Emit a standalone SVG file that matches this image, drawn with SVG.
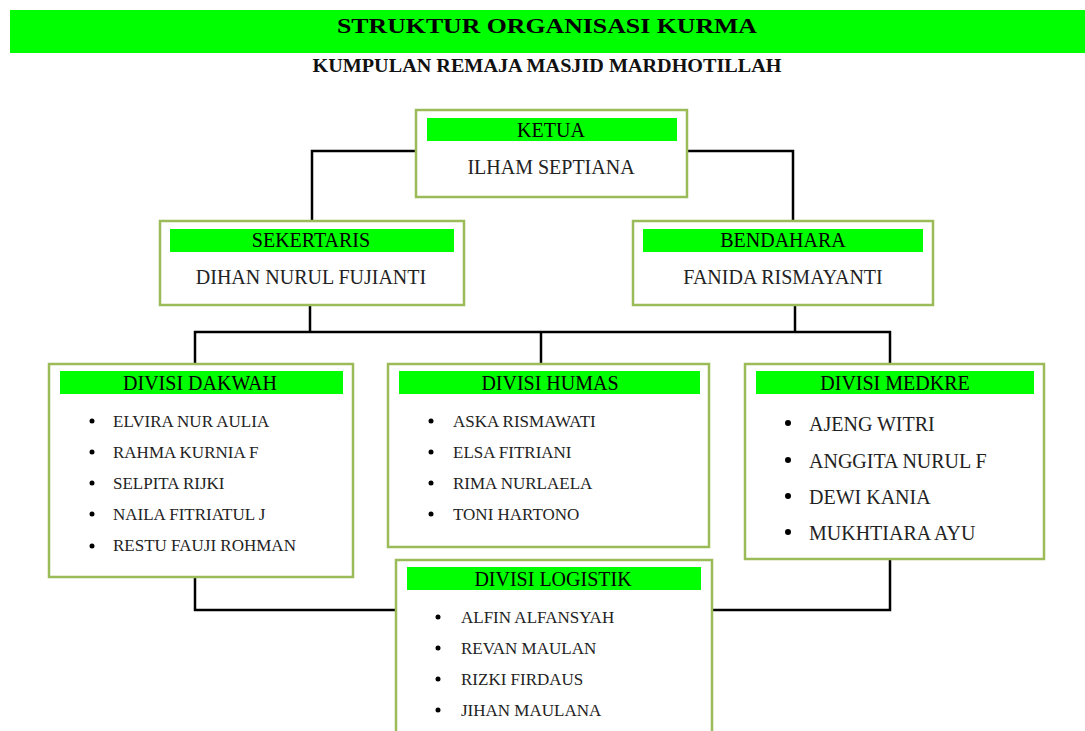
<svg xmlns="http://www.w3.org/2000/svg" width="1085" height="731" viewBox="0 0 1085 731">
<style>
.box{fill:#fff;stroke:#9BBB59;stroke-width:2.5}
.bar{fill:#00FF00}
.hd{font-family:"Liberation Serif","Times New Roman",serif;font-size:20px;fill:#000;text-anchor:middle}
.nm{font-family:"Liberation Serif","Times New Roman",serif;font-size:20px;fill:#222;text-anchor:middle}
.it{font-family:"Liberation Serif","Times New Roman",serif;font-size:17px;fill:#222}
.itl{font-family:"Liberation Serif","Times New Roman",serif;font-size:20px;fill:#222}
.con{fill:none;stroke:#000;stroke-width:2.5}
.dot{fill:#000}
</style>
<rect width="1085" height="731" fill="#fff"/>
<g id="title">
<rect x="10" y="10" width="1075" height="43" fill="#00FF00"/>
<text x="547" y="33" font-family="Liberation Serif, serif" font-weight="bold" font-size="22" text-anchor="middle" textLength="420" lengthAdjust="spacingAndGlyphs">STRUKTUR ORGANISASI KURMA</text>
<text x="547" y="72" font-family="Liberation Serif, serif" font-weight="bold" font-size="19" text-anchor="middle" textLength="469" lengthAdjust="spacingAndGlyphs" fill="#111">KUMPULAN REMAJA MASJID MARDHOTILLAH</text>
</g>
<g id="connectors">
<polyline class="con" points="416,151 312,151 312,221"/>
<polyline class="con" points="687,151 793,151 793,221"/>
<line class="con" x1="310" y1="305" x2="310" y2="332"/>
<line class="con" x1="795" y1="305" x2="795" y2="332"/>
<line class="con" x1="194" y1="332" x2="891" y2="332"/>
<line class="con" x1="195" y1="331" x2="195" y2="364"/>
<line class="con" x1="541" y1="331" x2="541" y2="364"/>
<line class="con" x1="890" y1="331" x2="890" y2="364"/>
<polyline class="con" points="195,577 195,610 396,610"/>
<polyline class="con" points="890,559 890,610 712,610"/>
</g>
<g id="ketua">
<rect class="box" x="416" y="110" width="271" height="87"/>
<rect class="bar" x="427" y="118" width="250" height="23"/>
<text class="hd" x="551" y="137">KETUA</text>
<text class="nm" x="551" y="174">ILHAM SEPTIANA</text>
</g>
<g id="sekertaris">
<rect class="box" x="160" y="221" width="304" height="84"/>
<rect class="bar" x="170" y="229" width="284" height="23"/>
<text class="hd" x="311" y="247">SEKERTARIS</text>
<text class="nm" x="311" y="284">DIHAN NURUL FUJIANTI</text>
</g>
<g id="bendahara">
<rect class="box" x="633" y="221" width="300" height="84"/>
<rect class="bar" x="643" y="229" width="280" height="23"/>
<text class="hd" x="783" y="247">BENDAHARA</text>
<text class="nm" x="783" y="284">FANIDA RISMAYANTI</text>
</g>
<g id="divisi-dakwah">
<rect class="box" x="49" y="364" width="304" height="213"/>
<rect class="bar" x="60" y="371" width="283" height="23"/>
<text class="hd" x="200" y="390">DIVISI DAKWAH</text>
<circle class="dot" cx="92" cy="421" r="2.5"/><text class="it" x="113" y="426.5">ELVIRA NUR AULIA</text>
<circle class="dot" cx="92" cy="452" r="2.5"/><text class="it" x="113" y="457.5">RAHMA KURNIA F</text>
<circle class="dot" cx="92" cy="483" r="2.5"/><text class="it" x="113" y="488.5">SELPITA RIJKI</text>
<circle class="dot" cx="92" cy="514" r="2.5"/><text class="it" x="113" y="520">NAILA FITRIATUL J</text>
<circle class="dot" cx="92" cy="546" r="2.5"/><text class="it" x="113" y="551">RESTU FAUJI ROHMAN</text>
</g>
<g id="divisi-humas">
<rect class="box" x="388" y="364" width="321" height="183"/>
<rect class="bar" x="399" y="371" width="301" height="23"/>
<text class="hd" x="550" y="390">DIVISI HUMAS</text>
<circle class="dot" cx="431" cy="421" r="2.5"/><text class="it" x="453" y="426.5">ASKA RISMAWATI</text>
<circle class="dot" cx="431" cy="452" r="2.5"/><text class="it" x="453" y="457.5">ELSA FITRIANI</text>
<circle class="dot" cx="431" cy="483" r="2.5"/><text class="it" x="453" y="488.5">RIMA NURLAELA</text>
<circle class="dot" cx="431" cy="514" r="2.5"/><text class="it" x="453" y="520">TONI HARTONO</text>
</g>
<g id="divisi-medkre">
<rect class="box" x="745" y="364" width="299" height="195"/>
<rect class="bar" x="756" y="371" width="278" height="23"/>
<text class="hd" x="895" y="390">DIVISI MEDKRE</text>
<circle class="dot" cx="788" cy="423" r="3"/><text class="itl" x="809" y="431">AJENG WITRI</text>
<circle class="dot" cx="788" cy="460" r="3"/><text class="itl" x="809" y="468">ANGGITA NURUL F</text>
<circle class="dot" cx="788" cy="496" r="3"/><text class="itl" x="809" y="504">DEWI KANIA</text>
<circle class="dot" cx="788" cy="532" r="3"/><text class="itl" x="809" y="540">MUKHTIARA AYU</text>
</g>
<g id="divisi-logistik">
<rect class="box" x="396" y="560" width="316" height="180"/>
<rect class="bar" x="407" y="567" width="294" height="23"/>
<text class="hd" x="553" y="586">DIVISI LOGISTIK</text>
<circle class="dot" cx="438" cy="617" r="2.5"/><text class="it" x="461" y="622.5">ALFIN ALFANSYAH</text>
<circle class="dot" cx="438" cy="648" r="2.5"/><text class="it" x="461" y="653.5">REVAN MAULAN</text>
<circle class="dot" cx="438" cy="679" r="2.5"/><text class="it" x="461" y="684.5">RIZKI FIRDAUS</text>
<circle class="dot" cx="438" cy="710" r="2.5"/><text class="it" x="461" y="715.5">JIHAN MAULANA</text>
</g>
</svg>
